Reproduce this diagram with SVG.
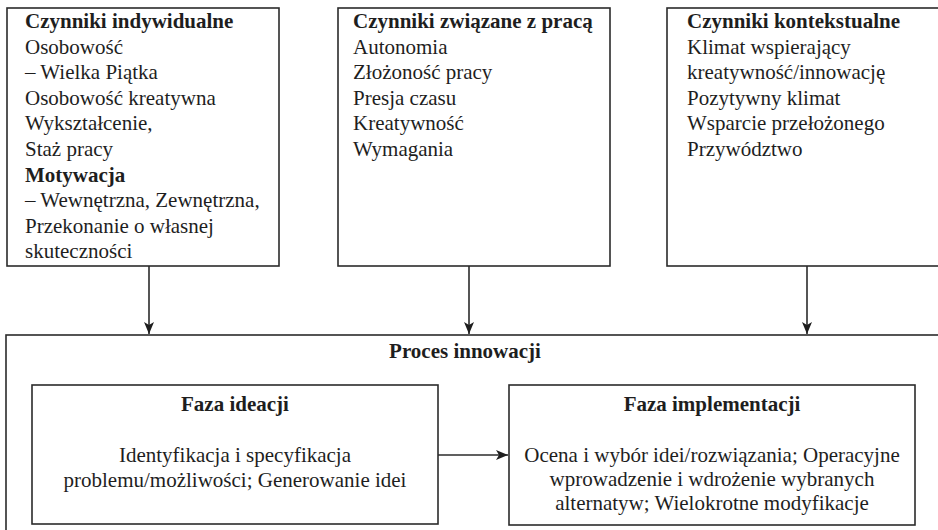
<svg xmlns="http://www.w3.org/2000/svg" width="938" height="530" viewBox="0 0 938 530">
<style>
.box{fill:#fff;stroke:#2b2b2b;stroke-width:1.6}
.t{font-family:"Liberation Serif","Times New Roman",serif;font-size:21px;fill:#1e1e1e}
.b{font-weight:bold}
.m{text-anchor:middle}
.c{stroke:#2b2b2b;stroke-width:1.6;fill:none}
</style>
<defs>
<marker id="ah" viewBox="0 0 12 10" refX="12" refY="5" markerWidth="12" markerHeight="10" markerUnits="userSpaceOnUse" orient="auto">
<path d="M0,0 L12,5 L0,10 L3,5 Z" fill="#1e1e1e"/>
</marker>
</defs>
<rect width="938" height="530" fill="#fff"/>
<g id="outer">
<rect class="box" x="6" y="335" width="945" height="210"/>
<text class="t b m" x="465" y="358">Proces innowacji</text>
</g>
<g id="box1">
<rect class="box" x="7" y="8" width="272" height="258"/>
<text class="t" x="25" y="28"><tspan class="b">Czynniki indywidualne</tspan><tspan x="25" dy="25.6">Osobowość</tspan><tspan x="25" dy="25.6">– Wielka Piątka</tspan><tspan x="25" dy="25.6">Osobowość kreatywna</tspan><tspan x="25" dy="25.6">Wykształcenie,</tspan><tspan x="25" dy="25.6">Staż pracy</tspan><tspan x="25" dy="25.6" class="b">Motywacja</tspan><tspan x="25" dy="25.6">– Wewnętrzna, Zewnętrzna,</tspan><tspan x="25" dy="25.6">Przekonanie o własnej</tspan><tspan x="25" dy="25.6">skuteczności</tspan></text>
</g>
<g id="box2">
<rect class="box" x="338" y="8" width="272" height="258"/>
<text class="t" x="353" y="28"><tspan class="b">Czynniki związane z pracą</tspan><tspan x="353" dy="25.6">Autonomia</tspan><tspan x="353" dy="25.6">Złożoność pracy</tspan><tspan x="353" dy="25.6">Presja czasu</tspan><tspan x="353" dy="25.6">Kreatywność</tspan><tspan x="353" dy="25.6">Wymagania</tspan></text>
</g>
<g id="box3">
<rect class="box" x="667" y="8" width="285" height="258"/>
<text class="t" x="687" y="28"><tspan class="b">Czynniki kontekstualne</tspan><tspan x="687" dy="25.6">Klimat wspierający</tspan><tspan x="687" dy="25.6">kreatywność/innowację</tspan><tspan x="687" dy="25.6">Pozytywny klimat</tspan><tspan x="687" dy="25.6">Wsparcie przełożonego</tspan><tspan x="687" dy="25.6">Przywództwo</tspan></text>
</g>
<g id="ideation">
<rect class="box" x="32" y="385" width="406" height="139"/>
<text class="t b m" x="235" y="411">Faza ideacji</text>
<text class="t m" x="235" y="462">Identyfikacja i specyfikacja<tspan x="235" dy="25">problemu/możliwości; Generowanie idei</tspan></text>
</g>
<g id="implementation">
<rect class="box" x="509" y="385" width="406" height="140"/>
<text class="t b m" x="712" y="411">Faza implementacji</text>
<text class="t m" x="712" y="462">Ocena i wybór idei/rozwiązania; Operacyjne<tspan x="712" dy="24">wprowadzenie i wdrożenie wybranych</tspan><tspan x="712" dy="24">alternatyw; Wielokrotne modyfikacje</tspan></text>
</g>
<g id="connectors">
<line class="c" x1="149" y1="266" x2="149" y2="334" marker-end="url(#ah)"/>
<line class="c" x1="469" y1="266" x2="469" y2="334" marker-end="url(#ah)"/>
<line class="c" x1="807" y1="266" x2="807" y2="334" marker-end="url(#ah)"/>
<line class="c" x1="438" y1="455" x2="508" y2="455" marker-end="url(#ah)"/>
</g>
</svg>
